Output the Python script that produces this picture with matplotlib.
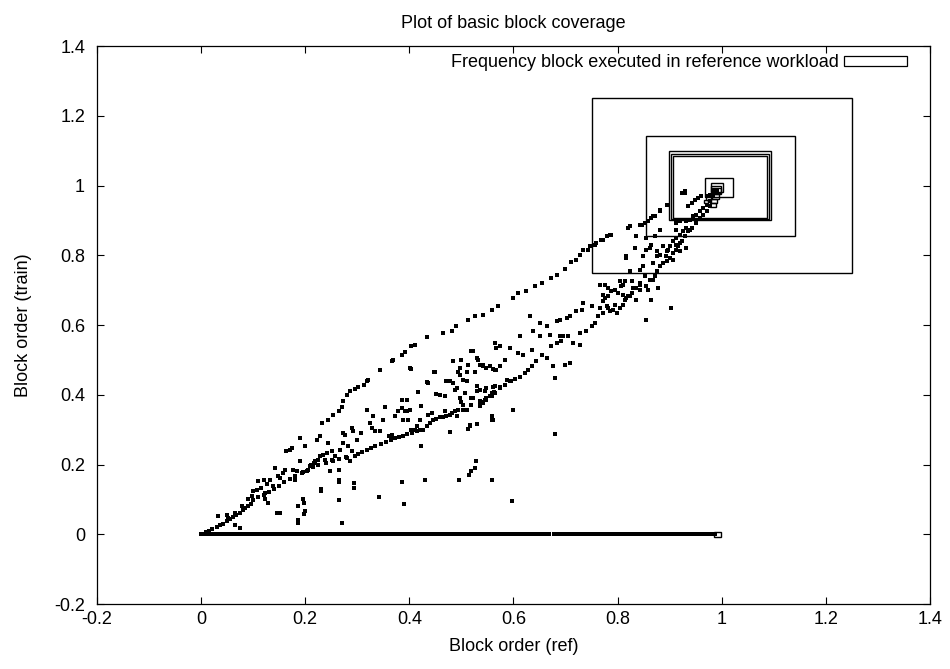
#! /usr/bin/env python3

import matplotlib
matplotlib.use('Agg')
import matplotlib.pyplot as plt
from matplotlib.patches import Rectangle

plt.rcParams['font.family'] = ['Liberation Sans', 'DejaVu Sans']
plt.rcParams['font.size'] = 13

# blocks that never ran in the training workload (train order = 0)
base_x = [0.000, 0.003, 0.007, 0.011, 0.014, 0.019, 0.023, 0.027, 0.031, 0.036,
          0.040, 0.045, 0.049, 0.053, 0.058, 0.062, 0.067, 0.071, 0.076, 0.080,
          0.085, 0.089, 0.094, 0.098, 0.103, 0.108, 0.112, 0.117, 0.121, 0.126,
          0.131, 0.135, 0.140, 0.144, 0.149, 0.154, 0.158, 0.163, 0.167, 0.172,
          0.177, 0.181, 0.186, 0.190, 0.195, 0.200, 0.204, 0.209, 0.213, 0.218,
          0.223, 0.227, 0.232, 0.236, 0.241, 0.246, 0.250, 0.255, 0.259, 0.264,
          0.269, 0.273, 0.278, 0.282, 0.287, 0.292, 0.296, 0.301, 0.305, 0.310,
          0.315, 0.319, 0.324, 0.328, 0.333, 0.338, 0.342, 0.347, 0.351, 0.356,
          0.361, 0.365, 0.370, 0.374, 0.379, 0.384, 0.388, 0.393, 0.397, 0.402,
          0.407, 0.411, 0.416, 0.420, 0.425, 0.430, 0.434, 0.439, 0.443, 0.448,
          0.453, 0.457, 0.462, 0.466, 0.471, 0.476, 0.480, 0.485, 0.489, 0.494,
          0.499, 0.503, 0.508, 0.512, 0.517, 0.522, 0.526, 0.531, 0.535, 0.540,
          0.545, 0.549, 0.554, 0.558, 0.563, 0.568, 0.572, 0.577, 0.581, 0.586,
          0.591, 0.595, 0.600, 0.604, 0.609, 0.614, 0.618, 0.623, 0.627, 0.632,
          0.637, 0.641, 0.646, 0.650, 0.655, 0.660, 0.664, 0.669, 0.677, 0.682,
          0.687, 0.692, 0.697, 0.702, 0.707, 0.712, 0.716, 0.721, 0.725, 0.730,
          0.735, 0.739, 0.744, 0.748, 0.753, 0.761, 0.766, 0.771, 0.775, 0.780,
          0.785, 0.789, 0.794, 0.798, 0.803, 0.810, 0.815, 0.820, 0.824, 0.829,
          0.833, 0.840, 0.845, 0.850, 0.854, 0.859, 0.864, 0.868, 0.873, 0.877,
          0.882, 0.887, 0.891, 0.896, 0.900, 0.905, 0.910, 0.914, 0.919, 0.923,
          0.928, 0.933, 0.941, 0.946, 0.951, 0.955, 0.960, 0.965, 0.969, 0.974,
          0.978, 0.983, 0.987]

# blocks executed in both workloads: (ref order, train order)
dots_x = [
    # dense diagonal near the origin
    0.004, 0.010, 0.016, 0.022, 0.030, 0.036, 0.042, 0.049, 0.056, 0.062,
    0.068, 0.074, 0.080, 0.084, 0.090, 0.095, 0.065, 0.075,
    0.100, 0.110, 0.120, 0.130, 0.140, 0.150, 0.160, 0.170, 0.180,
    0.195, 0.205, 0.215, 0.225, 0.240, 0.252, 0.265, 0.278,
    0.295, 0.302, 0.310, 0.318, 0.326, 0.334, 0.345, 0.356, 0.365, 0.372,
    0.380, 0.388, 0.396, 0.405, 0.414, 0.420,
    # scatter, lower left
    0.033, 0.049, 0.052, 0.065, 0.078, 0.091, 0.097, 0.100, 0.107, 0.110,
    0.116, 0.120, 0.123, 0.126, 0.132, 0.139, 0.142, 0.148, 0.152, 0.158,
    0.161, 0.177, 0.180, 0.184, 0.190, 0.193, 0.203, 0.209, 0.212, 0.216,
    0.219, 0.225, 0.228, 0.235, 0.238, 0.241, 0.244, 0.248, 0.251, 0.254,
    0.257, 0.264, 0.267, 0.273, 0.276, 0.280, 0.283, 0.286, 0.289, 0.292,
    0.145, 0.152, 0.187, 0.200, 0.196, 0.230, 0.264, 0.123, 0.129,
    # upper line
    0.142, 0.164, 0.171, 0.174, 0.190, 0.200, 0.222, 0.228, 0.232, 0.244,
    0.254, 0.265, 0.270, 0.273, 0.280, 0.286, 0.296, 0.302, 0.312, 0.318,
    0.321, 0.344, 0.366, 0.369, 0.385, 0.392, 0.404, 0.411, 0.434, 0.465,
    0.481, 0.489, 0.513, 0.526, 0.542, 0.558, 0.571, 0.599, 0.609, 0.625,
    0.641, 0.654, 0.673, 0.683, 0.699, 0.711, 0.721, 0.727, 0.743, 0.756,
    0.772, 0.785, 0.820, 0.843, 0.859, 0.868, 0.881, 0.894, 0.929,
    # scatter, middle
    0.273, 0.289, 0.299, 0.308, 0.318, 0.324, 0.328, 0.331, 0.334, 0.344,
    0.350, 0.353, 0.360, 0.366, 0.369, 0.372, 0.379, 0.385, 0.388, 0.392,
    0.395, 0.398, 0.401, 0.404, 0.411, 0.414, 0.420, 0.423, 0.423, 0.395,
    0.385, 0.443, 0.436, 0.401, 0.434, 0.448, 0.404, 0.449, 0.436, 0.417,
    0.452, 0.459, 0.468, 0.478, 0.487, 0.494, 0.497, 0.500, 0.504, 0.510,
    0.513, 0.519, 0.526, 0.529, 0.535, 0.542, 0.548, 0.561, 0.567, 0.564,
    0.567, 0.529, 0.535, 0.545, 0.558, 0.564, 0.497, 0.500, 0.504, 0.510,
    0.519, 0.523, 0.535, 0.542, 0.548, 0.558, 0.562,
    # lower band, middle
    0.427, 0.433, 0.440, 0.446, 0.452, 0.459, 0.465, 0.471, 0.478, 0.481,
    0.487, 0.494, 0.478, 0.516, 0.513, 0.529, 0.558, 0.561, 0.535, 0.542,
    0.548,
    # scatter, right
    0.766, 0.775, 0.782, 0.772, 0.775, 0.782, 0.788, 0.795, 0.801, 0.807,
    0.814, 0.811, 0.817, 0.820, 0.827, 0.830, 0.836, 0.843, 0.855, 0.859,
    0.865, 0.878, 0.868, 0.817, 0.833, 0.855, 0.862, 0.875, 0.881, 0.887,
    0.894, 0.907, 0.913, 0.919, 0.932, 0.903, 0.855,
    0.631, 0.651, 0.664, 0.683, 0.689, 0.702, 0.708, 0.721, 0.731, 0.734,
    0.750, 0.766, 0.779, 0.785, 0.791, 0.804, 0.811, 0.798, 0.772,
    0.670, 0.689, 0.715, 0.727, 0.695, 0.638, 0.651, 0.612, 0.564, 0.574,
    0.593, 0.609, 0.619, 0.635, 0.644, 0.664, 0.676, 0.680, 0.699, 0.708,
    0.523, 0.532, 0.542, 0.555, 0.564, 0.574, 0.583, 0.484, 0.497, 0.510,
    0.471, 0.484, 0.491, 0.507, 0.519, 0.529, 0.548, 0.561, 0.574, 0.587,
    0.596, 0.600, 0.558, 0.516, 0.468, 0.478, 0.491, 0.504,
    # lower band, right
    0.535, 0.545, 0.555, 0.564, 0.574, 0.583, 0.593, 0.603, 0.612, 0.622,
    0.628, 0.635, 0.654, 0.673, 0.683, 0.692, 0.705, 0.727, 0.740, 0.750,
    0.756, 0.763, 0.772, 0.782, 0.795, 0.814, 0.823, 0.836, 0.843, 0.852,
    0.843, 0.849, 0.871, 0.894, 0.900, 0.907, 0.913, 0.916, 0.923, 0.929,
    0.935, 0.942, 0.951, 0.958, 0.964, 0.971, 0.977,
    # inside the frequency boxes
    0.923, 0.929, 0.935, 0.942, 0.948, 0.955, 0.961, 0.971, 0.977, 0.987,
    0.894, 0.881, 0.871, 0.865, 0.859, 0.852, 0.846, 0.823, 0.820, 0.787,
    0.779, 0.769, 0.759, 0.747, 0.734,
    0.913, 0.919, 0.932, 0.939, 0.945, 0.951, 0.958, 0.964, 0.971, 0.977,
    0.983, 0.990, 0.932, 0.926, 0.919, 0.913, 0.907, 0.900, 0.897, 0.893,
    0.887, 0.881, 0.939,
    0.913, 0.919, 0.881, 0.871, 0.865, 0.855, 0.849, 0.875, 0.868, 0.836,
    0.817, 0.823, 0.804, 0.843, 0.855, 0.875, 0.862, 0.827, 0.810,
    # outliers
    0.680, 0.528, 0.527, 0.518, 0.515, 0.558, 0.495, 0.431, 0.386, 0.342,
    0.389, 0.598, 0.270, 0.187, 0.197, 0.197, 0.187, 0.265, 0.293, 0.293,
    0.264, 0.230,
]
dots_y = [
    0.001, 0.006, 0.010, 0.015, 0.021, 0.026, 0.031, 0.037, 0.044, 0.050,
    0.056, 0.062, 0.069, 0.076, 0.082, 0.088, 0.028, 0.018,
    0.098, 0.106, 0.114, 0.122, 0.130, 0.140, 0.150, 0.160, 0.168,
    0.180, 0.186, 0.192, 0.198, 0.206, 0.212, 0.217, 0.221,
    0.225, 0.231, 0.236, 0.242, 0.247, 0.252, 0.258, 0.264, 0.271, 0.276,
    0.278, 0.282, 0.287, 0.291, 0.295, 0.298,
    0.052, 0.056, 0.047, 0.061, 0.082, 0.100, 0.109, 0.123, 0.128, 0.152,
    0.133, 0.157, 0.119, 0.143, 0.157, 0.138, 0.190, 0.166, 0.162, 0.176,
    0.186, 0.186, 0.157, 0.181, 0.209, 0.176, 0.181, 0.195, 0.200, 0.205,
    0.209, 0.214, 0.224, 0.229, 0.214, 0.233, 0.262, 0.181, 0.238, 0.209,
    0.224, 0.186, 0.243, 0.262, 0.286, 0.219, 0.252, 0.209, 0.238, 0.295,
    0.061, 0.061, 0.042, 0.066, 0.100, 0.130, 0.157, 0.100, 0.090,
    0.190, 0.238, 0.243, 0.248, 0.276, 0.252, 0.272, 0.281, 0.319, 0.327,
    0.343, 0.353, 0.364, 0.382, 0.401, 0.410, 0.417, 0.423, 0.429, 0.439,
    0.443, 0.472, 0.496, 0.501, 0.515, 0.522, 0.539, 0.544, 0.566, 0.577,
    0.584, 0.598, 0.616, 0.625, 0.630, 0.644, 0.654, 0.678, 0.692, 0.697,
    0.711, 0.721, 0.735, 0.745, 0.761, 0.780, 0.788, 0.802, 0.816, 0.831,
    0.845, 0.859, 0.879, 0.888, 0.898, 0.912, 0.926, 0.945, 0.979,
    0.291, 0.305, 0.271, 0.291, 0.358, 0.319, 0.305, 0.338, 0.295, 0.295,
    0.329, 0.365, 0.281, 0.286, 0.276, 0.338, 0.353, 0.362, 0.329, 0.353,
    0.353, 0.329, 0.358, 0.300, 0.300, 0.310, 0.329, 0.367, 0.252, 0.386,
    0.386, 0.348, 0.343, 0.477, 0.436, 0.465, 0.474, 0.465, 0.434, 0.407,
    0.403, 0.401, 0.396, 0.439, 0.415, 0.467, 0.458, 0.501, 0.444, 0.439,
    0.487, 0.525, 0.467, 0.506, 0.487, 0.482, 0.477, 0.474, 0.472, 0.549,
    0.534, 0.425, 0.415, 0.410, 0.405, 0.425, 0.391, 0.381, 0.372, 0.358,
    0.372, 0.391, 0.372, 0.377, 0.386, 0.396, 0.407,
    0.300, 0.310, 0.319, 0.327, 0.331, 0.337, 0.337, 0.340, 0.343, 0.348,
    0.353, 0.356, 0.293, 0.315, 0.302, 0.317, 0.339, 0.327, 0.367, 0.381,
    0.391,
    0.716, 0.716, 0.706, 0.687, 0.678, 0.683, 0.697, 0.702, 0.692, 0.711,
    0.726, 0.687, 0.678, 0.683, 0.692, 0.706, 0.673, 0.702, 0.711, 0.702,
    0.673, 0.706, 0.730, 0.793, 0.821, 0.850, 0.821, 0.812, 0.802, 0.826,
    0.812, 0.788, 0.831, 0.812, 0.821, 0.649, 0.616,
    0.625, 0.606, 0.597, 0.611, 0.616, 0.620, 0.625, 0.640, 0.644, 0.663,
    0.654, 0.649, 0.654, 0.640, 0.644, 0.649, 0.659, 0.635, 0.668,
    0.573, 0.568, 0.549, 0.544, 0.568, 0.582, 0.568, 0.568, 0.549, 0.539,
    0.534, 0.520, 0.515, 0.530, 0.496, 0.506, 0.482, 0.448, 0.487, 0.491,
    0.525, 0.501, 0.487, 0.482, 0.472, 0.482, 0.501, 0.496, 0.477, 0.467,
    0.439, 0.434, 0.420, 0.405, 0.391, 0.410, 0.420, 0.424, 0.424, 0.444,
    0.439, 0.358, 0.329, 0.310, 0.353, 0.343, 0.339, 0.358,
    0.382, 0.386, 0.396, 0.405, 0.420, 0.429, 0.439, 0.446, 0.451, 0.463,
    0.472, 0.482, 0.515, 0.539, 0.549, 0.554, 0.568, 0.577, 0.582, 0.597,
    0.606, 0.625, 0.635, 0.649, 0.659, 0.673, 0.683, 0.706, 0.721, 0.740,
    0.759, 0.769, 0.740, 0.783, 0.793, 0.807, 0.816, 0.826, 0.840, 0.855,
    0.869, 0.879, 0.893, 0.907, 0.917, 0.926, 0.941,
    0.979, 0.984, 0.941, 0.950, 0.960, 0.964, 0.971, 0.969, 0.974, 0.988,
    0.945, 0.931, 0.912, 0.907, 0.898, 0.893, 0.888, 0.883, 0.878, 0.859,
    0.855, 0.845, 0.835, 0.826, 0.816,
    0.893, 0.898, 0.898, 0.902, 0.912, 0.917, 0.926, 0.936, 0.945, 0.955,
    0.974, 0.984, 0.878, 0.869, 0.859, 0.850, 0.840, 0.826, 0.816, 0.797,
    0.778, 0.769, 0.874,
    0.874, 0.836, 0.874, 0.855, 0.831, 0.816, 0.797, 0.797, 0.778, 0.855,
    0.797, 0.754, 0.726, 0.716, 0.711, 0.754, 0.730, 0.726, 0.716,
    0.289, 0.210, 0.190, 0.181, 0.171, 0.156, 0.156, 0.156, 0.151, 0.106,
    0.087, 0.095, 0.032, 0.032, 0.057, 0.091, 0.082, 0.099, 0.146, 0.134,
    0.151, 0.123,
]

# heavily executed blocks: centre and half width of the square
box_x = [1.000, 0.997, 0.997, 0.997, 0.996, 0.995, 0.991, 0.989, 0.990,
         0.988, 0.985, 0.983, 0.975, 0.970, 0.992]
box_y = [1.000, 0.998, 1.000, 0.997, 0.996, 0.995, 0.995, 0.990, 0.984,
         0.968, 0.955, 0.945, 0.965, 0.955, 0.000]
box_half = [0.250, 0.143, 0.098, 0.094, 0.090, 0.027, 0.012, 0.010, 0.008,
            0.007, 0.006, 0.005, 0.005, 0.004, 0.007]

xticks = [-0.2, 0, 0.2, 0.4, 0.6, 0.8, 1, 1.2, 1.4]
yticks = [-0.2, 0, 0.2, 0.4, 0.6, 0.8, 1, 1.2, 1.4]


def main():
    fig = plt.figure(figsize=(9.5, 6.69), dpi=100)
    ax = fig.add_axes([0.102, 0.097, 0.877, 0.834])

    # all the plain points
    ax.plot(base_x, [0.0] * len(base_x), ls='none', marker='s', ms=2.4,
            mew=0, color='black')
    ax.plot(dots_x, dots_y, ls='none', marker='s', ms=2.25, mew=0,
            color='black')

    # variable sized squares
    for bx, by, bh in zip(box_x, box_y, box_half):
        ax.add_patch(Rectangle((bx - bh, by - bh), 2 * bh, 2 * bh,
                               fill=False, edgecolor='black', lw=1.0))

    ax.set_xlim(-0.2, 1.4)
    ax.set_ylim(-0.2, 1.4)
    ax.set_xticks(xticks)
    ax.set_yticks(yticks)
    ax.set_xticklabels([f'{t:g}' for t in xticks])
    ax.set_yticklabels([f'{t:g}' for t in yticks])
    ax.tick_params(direction='in', length=5, width=0.8, top=True, right=True,
                   labelsize=13)
    ax.tick_params(axis='x', pad=5)
    ax.tick_params(axis='y', pad=8.5)
    for s in ax.spines.values():
        s.set_linewidth(0.9)

    ax.set_title('Plot of basic block coverage', fontsize=13, pad=13)
    ax.set_xlabel('Block order (ref)', fontsize=13, labelpad=7)
    ax.set_ylabel('Block order (train)', fontsize=13, labelpad=16)

    handle = Rectangle((0, 0), 1, 1, fill=False, edgecolor='black', lw=0.9)
    ax.legend([handle], ['Frequency block executed in reference workload'],
              loc='upper right', bbox_to_anchor=(0.981, 0.998),
              frameon=False, markerfirst=False, handlelength=3.5,
              handleheight=0.45, fontsize=13, borderaxespad=0,
              borderpad=0.4, handletextpad=0.3)

    fig.savefig('out.png', dpi=100)


if __name__ == '__main__':
    main()
